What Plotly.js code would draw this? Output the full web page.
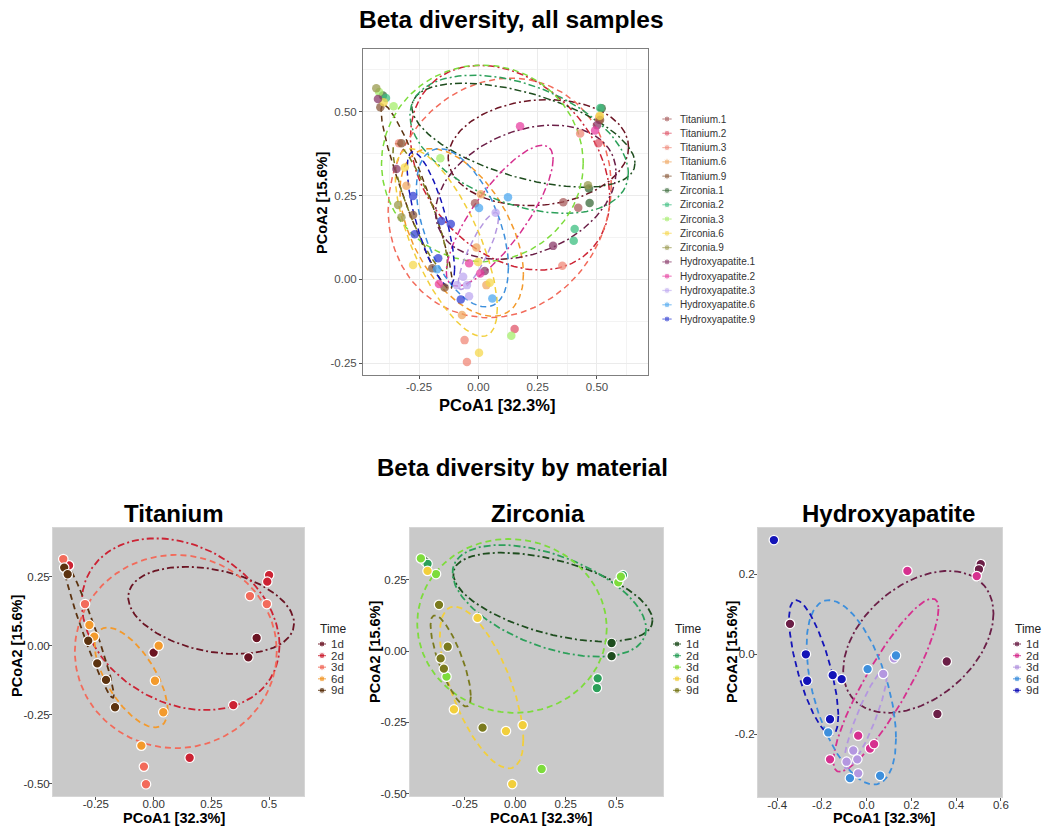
<!DOCTYPE html>
<html><head><meta charset="utf-8">
<script src="https://cdn.plot.ly/plotly-3.0.1.min.js"></script>
<style>html,body{margin:0;padding:0;background:#fff}#chart{width:1042px;height:827px}</style>
</head><body><div id="chart"></div>
<script>
// ---------------- DATA ----------------
const timeLabels = ['1d','2d','3d','6d','9d'];
const topLabels = ['Titanium.1','Titanium.2','Titanium.3','Titanium.6','Titanium.9',
  'Zirconia.1','Zirconia.2','Zirconia.3','Zirconia.6','Zirconia.9',
  'Hydroxyapatite.1','Hydroxyapatite.2','Hydroxyapatite.3','Hydroxyapatite.6','Hydroxyapatite.9'];

// Titanium panel
const ti_1d_x = [0.000, 0.410, 0.446];            const ti_1d_y = [-0.024, -0.041, 0.029];
const ti_2d_x = [-0.366, 0.156, 0.345, 0.500, 0.492]; const ti_2d_y = [0.292, -0.405, -0.214, 0.257, 0.233];
const ti_3d_x = [-0.391, -0.297, -0.042, -0.033, 0.417, 0.490]; const ti_3d_y = [0.315, 0.152, -0.437, -0.501, 0.181, 0.152];
const ti_6d_x = [-0.278, -0.257, 0.022, 0.006, 0.042, -0.053]; const ti_6d_y = [0.076, 0.034, 0.001, -0.126, -0.240, -0.361];
const ti_9d_x = [-0.387, -0.372, -0.283, -0.244, -0.206, -0.167]; const ti_9d_y = [0.284, 0.260, 0.019, -0.063, -0.123, -0.222];
// ellipse parameters: centre, half-width, half-height, y-offset at rightmost point (fraction of half-height)
const ti_ell_cx = [0.249, 0.117, 0.096, -0.097, -0.280];
const ti_ell_cy = [0.129, 0.079, -0.020, -0.114, 0.057];
const ti_ell_rx = [0.359, 0.428, 0.437, 0.158, 0.108];
const ti_ell_ry = [0.158, 0.311, 0.350, 0.181, 0.245];
const ti_ell_k  = [-0.30, -0.25, 0.00, -0.65, -0.96];

// Zirconia panel
const zr_1d_x = [-0.446, 0.478, 0.478];           const zr_1d_y = [0.314, 0.028, -0.018];
const zr_2d_x = [-0.435, 0.409, 0.405, 0.534];    const zr_2d_y = [0.306, -0.096, -0.130, 0.266];
const zr_3d_x = [-0.468, -0.393, -0.341, 0.131, 0.511, 0.524]; const zr_3d_y = [0.325, 0.270, -0.090, -0.414, 0.241, 0.261];
const zr_6d_x = [-0.435, -0.187, -0.304, -0.046, 0.037, -0.015]; const zr_6d_y = [0.281, 0.116, -0.205, -0.281, -0.260, -0.467];
const zr_9d_x = [-0.378, -0.335, -0.370, -0.354, -0.162]; const zr_9d_y = [0.162, 0.015, -0.026, -0.062, -0.269];
const zr_ell_cx = [0.187, 0.169, -0.016, -0.167, -0.320];
const zr_ell_cy = [0.189, 0.176, 0.088, -0.128, -0.035];
const zr_ell_rx = [0.494, 0.480, 0.470, 0.207, 0.100];
const zr_ell_ry = [0.156, 0.196, 0.305, 0.284, 0.160];
const zr_ell_k  = [-0.52, -0.50, -0.03, -0.65, -0.78];

// Hydroxyapatite panel
const hy_1d_x = [0.510, 0.502, -0.343, 0.358, 0.316]; const hy_1d_y = [0.225, 0.212, 0.076, -0.018, -0.149];
const hy_2d_x = [0.182, 0.492, -0.164, -0.038, 0.015, 0.033]; const hy_2d_y = [0.208, 0.195, -0.262, -0.203, -0.235, -0.224];
const hy_3d_x = [-0.090, -0.060, -0.042, -0.038, 0.074, 0.122]; const hy_3d_y = [-0.268, -0.240, -0.262, -0.297, -0.049, -0.010];
const hy_6d_x = [-0.172, -0.075, 0.004, 0.131, 0.060]; const hy_6d_y = [-0.195, -0.309, -0.037, -0.003, -0.303];
const hy_9d_x = [-0.415, -0.272, -0.266, -0.152, -0.112, -0.164]; const hy_9d_y = [0.285, 0.000, -0.066, -0.052, -0.062, -0.162];
const hy_ell_cx = [0.231, 0.086, -0.006, -0.069, -0.237];
const hy_ell_cy = [0.031, -0.077, -0.162, -0.095, -0.033];
const hy_ell_rx = [0.336, 0.235, 0.096, 0.200, 0.110];
const hy_ell_ry = [0.177, 0.216, 0.123, 0.230, 0.168];
const hy_ell_k  = [0.40, 0.88, 0.88, -0.50, -0.72];

// All samples (top chart)
const all_ti1_x = [0.358, 0.421, -0.014]; const all_ti1_y = [0.230, 0.214, 0.227];
const all_ti2_x = [0.153, 0.506, 0.509]; const all_ti2_y = [-0.148, 0.406, 0.476];
const all_ti3_x = [0.429, 0.354, -0.058, -0.048, -0.334]; const all_ti3_y = [0.435, 0.041, -0.181, -0.246, 0.406];
const all_ti6_x = [0.011, -0.069, 0.034, -0.303, -0.008, 0.510]; const all_ti6_y = [0.254, -0.106, -0.017, 0.279, 0.095, 0.485];
const all_ti9_x = [-0.413, -0.324, -0.194, -0.142, -0.275, 0.513]; const all_ti9_y = [0.513, 0.406, 0.033, -0.024, 0.192, 0.475];
const all_zr1_x = [-0.402, 0.520, 0.469, 0.466]; const all_zr1_y = [0.548, 0.510, 0.228, 0.271];
const all_zr2_x = [-0.389, 0.514, 0.406, 0.402]; const all_zr2_y = [0.541, 0.511, 0.150, 0.115];
const all_zr3_x = [-0.418, -0.357, -0.160, 0.139]; const all_zr3_y = [0.559, 0.516, 0.361, -0.168];
const all_zr6_x = [-0.399, -0.310, -0.275, 0.048, 0.003, 0.512, -0.001]; const all_zr6_y = [0.528, 0.334, 0.043, -0.010, -0.219, 0.488, 0.052];
const all_zr9_x = [-0.430, -0.338, -0.324, 0.462]; const all_zr9_y = [0.570, 0.222, 0.185, 0.281];
const all_hy1_x = [-0.423, -0.345, 0.315, 0.500, 0.027]; const all_hy1_y = [0.538, 0.329, 0.100, 0.460, 0.025];
const all_hy2_x = [0.176, 0.492, -0.166, 0.008, -0.039]; const all_hy2_y = [0.457, 0.444, -0.014, 0.018, 0.048];
const all_hy3_x = [0.073, -0.064, -0.090, -0.048, -0.039]; const all_hy3_y = [0.199, 0.008, -0.017, -0.017, -0.050];
const all_hy6_x = [0.003, -0.174, 0.059, 0.125]; const all_hy6_y = [0.213, 0.030, -0.057, 0.245];
const all_hy9_x = [-0.275, -0.156, -0.116, -0.268, -0.074, -0.169]; const all_hy9_y = [0.249, 0.174, 0.165, 0.135, -0.060, 0.063];
const all_ell_cx = [0.253, 0.134, 0.090, -0.070, -0.260, 0.190, 0.172, 0.017, -0.135, -0.245, 0.200, 0.090, 0.000, -0.067, -0.200];
const all_ell_cy = [0.378, 0.333, 0.243, 0.140, 0.246, 0.430, 0.403, 0.346, 0.110, 0.215, 0.260, 0.190, 0.085, 0.154, 0.180];
const all_ell_rx = [0.380, 0.420, 0.470, 0.260, 0.150, 0.470, 0.460, 0.425, 0.215, 0.115, 0.380, 0.225, 0.085, 0.194, 0.100];
const all_ell_ry = [0.158, 0.305, 0.357, 0.250, 0.275, 0.155, 0.206, 0.293, 0.280, 0.190, 0.200, 0.210, 0.115, 0.236, 0.200];
const all_ell_k  = [0.10, -0.30, 0.10, -0.50, -0.93, -0.54, -0.42, 0.00, -0.70, -0.88, 0.30, 0.80, 0.85, -0.50, -0.75];

const xTicksA = [-0.25, 0, 0.25, 0.5]; const xTickTextA = ['-0.25','0.00','0.25','0.50'];
const yTicksA = [-0.25, 0, 0.25, 0.5]; const yTickTextA = ['-0.25','0.00','0.25','0.50'];
const xTicksTZ = [-0.25, 0, 0.25, 0.5]; const xTickTextTZ = ['-0.25','0.00','0.25','0.5'];
const yTicksTZ = [-0.5, -0.25, 0, 0.25]; const yTickTextTZ = ['-0.50','-0.25','0.00','0.25'];
const xTicksH = [-0.4, -0.2, 0, 0.2, 0.4, 0.6]; const xTickTextH = ['-0.4','-0.2','0.0','0.2','0.4','0.6'];
const yTicksH = [-0.2, 0, 0.2]; const yTickTextH = ['-0.2','0.0','0.2'];

// ---------------- STYLE ----------------
const W = 1042, H = 827;
const PX = v => v / W, PY = v => 1 - v / H;
const FONT = 'Liberation Sans, Arial, sans-serif';
const tiColors = ['#6b1423','#cc2233','#f26b5b','#f39a2c','#5c3310'];
const zrColors = ['#1e4d1e','#2ca05a','#7ddc3c','#f2cf3c','#7a7a1e'];
const hyColors = ['#6b1f47','#d6308f','#b497e0','#3d8fdc','#1414b8'];
const topPointColors = ['#a85c5c','#e0566a','#f08878','#f0a862','#8a5a3a','#3a6a3a','#3cbf80','#a6ee6c','#f6d84e','#9a9a4e','#8a3a6a','#e842a2','#bea8f0','#4ea8f0','#3442d4'];
const topLineColors = tiColors.concat(zrColors, hyColors);
const dashes = ['7px,3px,2px,3px','7px,3px,2px,3px','6px,4px','6px,4px','6px,4px'];

function ellipse(cx, cy, rx, ry, k) {
  const d = Math.acos(Math.max(-1, Math.min(1, k)));
  const xs = [], ys = [];
  for (let i = 0; i <= 160; i++) {
    const t = 2 * Math.PI * i / 160;
    xs.push(cx + rx * Math.cos(t));
    ys.push(cy + ry * Math.cos(t + d));
  }
  return [xs, ys];
}

const traces = [];
function addEllipses(xa, ya, cx, cy, rx, ry, k, colors, width) {
  for (let i = 0; i < cx.length; i++) {
    const e = ellipse(cx[i], cy[i], rx[i], ry[i], k[i]);
    traces.push({type:'scatter', mode:'lines', x:e[0], y:e[1], xaxis:xa, yaxis:ya,
      line:{color:colors[i], width:width, dash:dashes[i % 5]}, hoverinfo:'skip', showlegend:false});
  }
}
function addPoints(xa, ya, xs, ys, colors, marker) {
  for (let i = 0; i < xs.length; i++) {
    traces.push({type:'scatter', mode:'markers', x:xs[i], y:ys[i], xaxis:xa, yaxis:ya, cliponaxis:false,
      marker:Object.assign({color:colors[i]}, marker), hoverinfo:'skip', showlegend:false});
  }
}

// top chart
addEllipses('x','y', all_ell_cx, all_ell_cy, all_ell_rx, all_ell_ry, all_ell_k, topLineColors, 1.5);
addPoints('x','y',
  [all_ti1_x, all_ti2_x, all_ti3_x, all_ti6_x, all_ti9_x, all_zr1_x, all_zr2_x, all_zr3_x, all_zr6_x, all_zr9_x, all_hy1_x, all_hy2_x, all_hy3_x, all_hy6_x, all_hy9_x],
  [all_ti1_y, all_ti2_y, all_ti3_y, all_ti6_y, all_ti9_y, all_zr1_y, all_zr2_y, all_zr3_y, all_zr6_y, all_zr9_y, all_hy1_y, all_hy2_y, all_hy3_y, all_hy6_y, all_hy9_y],
  topPointColors, {size:8.5, opacity:0.75});

// bottom panels
const bottomMarker = {size:9.5, line:{color:'#ffffff', width:1.2}};
addEllipses('x2','y2', ti_ell_cx, ti_ell_cy, ti_ell_rx, ti_ell_ry, ti_ell_k, tiColors, 1.8);
addPoints('x2','y2', [ti_1d_x, ti_2d_x, ti_3d_x, ti_6d_x, ti_9d_x], [ti_1d_y, ti_2d_y, ti_3d_y, ti_6d_y, ti_9d_y], tiColors, bottomMarker);
addEllipses('x3','y3', zr_ell_cx, zr_ell_cy, zr_ell_rx, zr_ell_ry, zr_ell_k, zrColors, 1.8);
addPoints('x3','y3', [zr_1d_x, zr_2d_x, zr_3d_x, zr_6d_x, zr_9d_x], [zr_1d_y, zr_2d_y, zr_3d_y, zr_6d_y, zr_9d_y], zrColors, bottomMarker);
addEllipses('x4','y4', hy_ell_cx, hy_ell_cy, hy_ell_rx, hy_ell_ry, hy_ell_k, hyColors, 1.8);
addPoints('x4','y4', [hy_1d_x, hy_2d_x, hy_3d_x, hy_6d_x, hy_9d_x], [hy_1d_y, hy_2d_y, hy_3d_y, hy_6d_y, hy_9d_y], hyColors, bottomMarker);

// ---------------- LEGENDS (custom, pixel-unit axes) ----------------
const annotations = [];
function legendKeys(xa, ya, labels, colors, x0, y0, step, keyW, msize, textGap, fsize, opacity) {
  for (let i = 0; i < labels.length; i++) {
    const yy = y0 + step * i;
    traces.push({type:'scatter', mode:'lines+markers', x:[x0, x0 + keyW / 2, x0 + keyW], y:[yy, yy, yy],
      xaxis:xa, yaxis:ya, cliponaxis:false, opacity:opacity,
      line:{color:colors[i], width:1.2}, marker:{color:colors[i], size:[0, msize, 0]},
      hoverinfo:'skip', showlegend:false});
    annotations.push({text:labels[i], x:PX(x0 + keyW + textGap), y:PY(yy), xref:'paper', yref:'paper',
      xanchor:'left', yanchor:'middle', showarrow:false, font:{family:FONT, size:fsize, color:'#333333'}});
  }
}
legendKeys('x5','y5', topLabels, topPointColors, 662.5, 119, 14.29, 9, 6, 6.5, 10, 0.85);
const bottomLegendX = [318, 673, 1013];
const bottomColors = [tiColors, zrColors, hyColors];
['x6','x7','x8'].forEach((xa, j) => {
  const ya = 'y' + xa.slice(1);
  legendKeys(xa, ya, timeLabels, bottomColors[j], bottomLegendX[j], 644, 11.6, 8, 6, 3.2, 11.5, 1);
  annotations.push({text:'Time', x:PX(bottomLegendX[j] - 0.5), y:PY(629), xref:'paper', yref:'paper',
    xanchor:'left', yanchor:'middle', showarrow:false, font:{family:FONT, size:12, color:'#222222'}});
});

// ---------------- TITLES ----------------
function ann(text, x, y, size, angle) {
  annotations.push({text:'<b>' + text + '</b>', x:PX(x), y:PY(y), xref:'paper', yref:'paper',
    xanchor:'center', yanchor:'middle', showarrow:false, textangle:angle || 0,
    font:{family:FONT, size:size, color:'#000000'}});
}
ann('Beta diversity, all samples', 511, 19, 24.5);
ann('Beta diversity by material', 522, 467, 24);
ann('Titanium', 174, 513, 24);
ann('Zirconia', 538, 513, 24);
ann('Hydroxyapatite', 888, 513, 24);
ann('PCoA1 [32.3%]', 497, 405, 16.5);
ann('PCoA2 [15.6%]', 322, 203, 14.5, -90);
ann('PCoA1 [32.3%]', 174, 818, 14.5);
ann('PCoA1 [32.3%]', 541, 818, 14.5);
ann('PCoA1 [32.3%]', 884, 818, 14.5);
ann('PCoA2 [15.6%]', 17, 646, 14.5, -90);
ann('PCoA2 [15.6%]', 375, 652, 14.5, -90);
ann('PCoA2 [15.6%]', 732, 652, 14.5, -90);

// ---------------- AXES ----------------
const layout = {
  width: W, height: H, margin:{l:0, r:0, t:0, b:0},
  paper_bgcolor:'#ffffff', plot_bgcolor:'rgba(0,0,0,0)', showlegend:false,
  font:{family:FONT, color:'#333333'},
  annotations: annotations, shapes: []
};
function axisPair(n, l, r, t, b, xr, yr, xtv, xtt, ytv, ytt, style) {
  const xs = n === 1 ? '' : String(n);
  const base = {zeroline:false, showline:true, mirror:true, linecolor:style.border, linewidth:1,
    ticks:'outside', ticklen:3, tickcolor:style.tick, tickwidth:1,
    tickfont:{family:FONT, size:style.tsize, color:style.tcolor}, fixedrange:true, tickmode:'array'};
  layout['xaxis' + xs] = Object.assign({}, base, {domain:[PX(l), PX(r)], range:xr, anchor:'y' + xs,
    tickvals:xtv, ticktext:xtt, showgrid:style.grid, gridcolor:'#ebebeb', gridwidth:1,
    ticklabelstandoff:style.xstand,
    minor: style.grid ? {tickmode:'array', tickvals:style.xminor, showgrid:true, gridcolor:'#f3f3f3', ticks:''} : undefined});
  layout['yaxis' + xs] = Object.assign({}, base, {domain:[PY(b), PY(t)], range:yr, anchor:'x' + xs,
    tickvals:ytv, ticktext:ytt, showgrid:style.grid, gridcolor:'#ebebeb', gridwidth:1,
    ticklabelstandoff:style.ystand,
    minor: style.grid ? {tickmode:'array', tickvals:style.yminor, showgrid:true, gridcolor:'#f3f3f3', ticks:''} : undefined});
  if (style.bg) {
    layout.shapes.push({type:'rect', xref:'x' + xs + ' domain', yref:'y' + xs + ' domain', x0:0, x1:1, y0:0, y1:1,
      fillcolor:style.bg, line:{width:0}, layer:'below'});
  }
}
axisPair(1, 363, 648, 49, 375, [-0.486, 0.715], [-0.285, 0.687], xTicksA, xTickTextA, yTicksA, yTickTextA,
  {border:'#7f7f7f', tick:'#555555', tsize:11.5, tcolor:'#4d4d4d', grid:true, xstand:-2, ystand:0,
   xminor:[-0.375, -0.125, 0.125, 0.375, 0.625], yminor:[-0.125, 0.125, 0.375, 0.625]});
const bstyle = {border:'#d6d6d6', tick:'#555555', tsize:11.5, tcolor:'#333333', grid:false, bg:'#c9c9c9', xstand:-6, ystand:-3};
axisPair(2, 53, 304, 528, 796, [-0.4355, 0.651], [-0.5435, 0.4275], xTicksTZ, xTickTextTZ, yTicksTZ, yTickTextTZ, bstyle);
axisPair(3, 410, 663, 528, 796, [-0.522, 0.733], [-0.5088, 0.4316], xTicksTZ, xTickTextTZ, yTicksTZ, yTickTextTZ, bstyle);
axisPair(4, 758, 1002, 528, 797, [-0.486, 0.605], [-0.356, 0.315], xTicksH, xTickTextH, yTicksH, yTickTextH, bstyle);
// legend axes (pixel units)
function pixelAxes(n, l, r, t, b) {
  layout['xaxis' + n] = {domain:[PX(l), PX(r)], range:[l, r], visible:false, fixedrange:true, anchor:'y' + n};
  layout['yaxis' + n] = {domain:[PY(b), PY(t)], range:[b, t], visible:false, fixedrange:true, anchor:'x' + n};
}
pixelAxes(5, 655, 800, 105, 335);
pixelAxes(6, 308, 365, 620, 705);
pixelAxes(7, 666, 740, 620, 705);
pixelAxes(8, 1005, 1042, 620, 705);

Plotly.newPlot('chart', traces, layout, {staticPlot:true, displayModeBar:false});
</script>
</body></html>
